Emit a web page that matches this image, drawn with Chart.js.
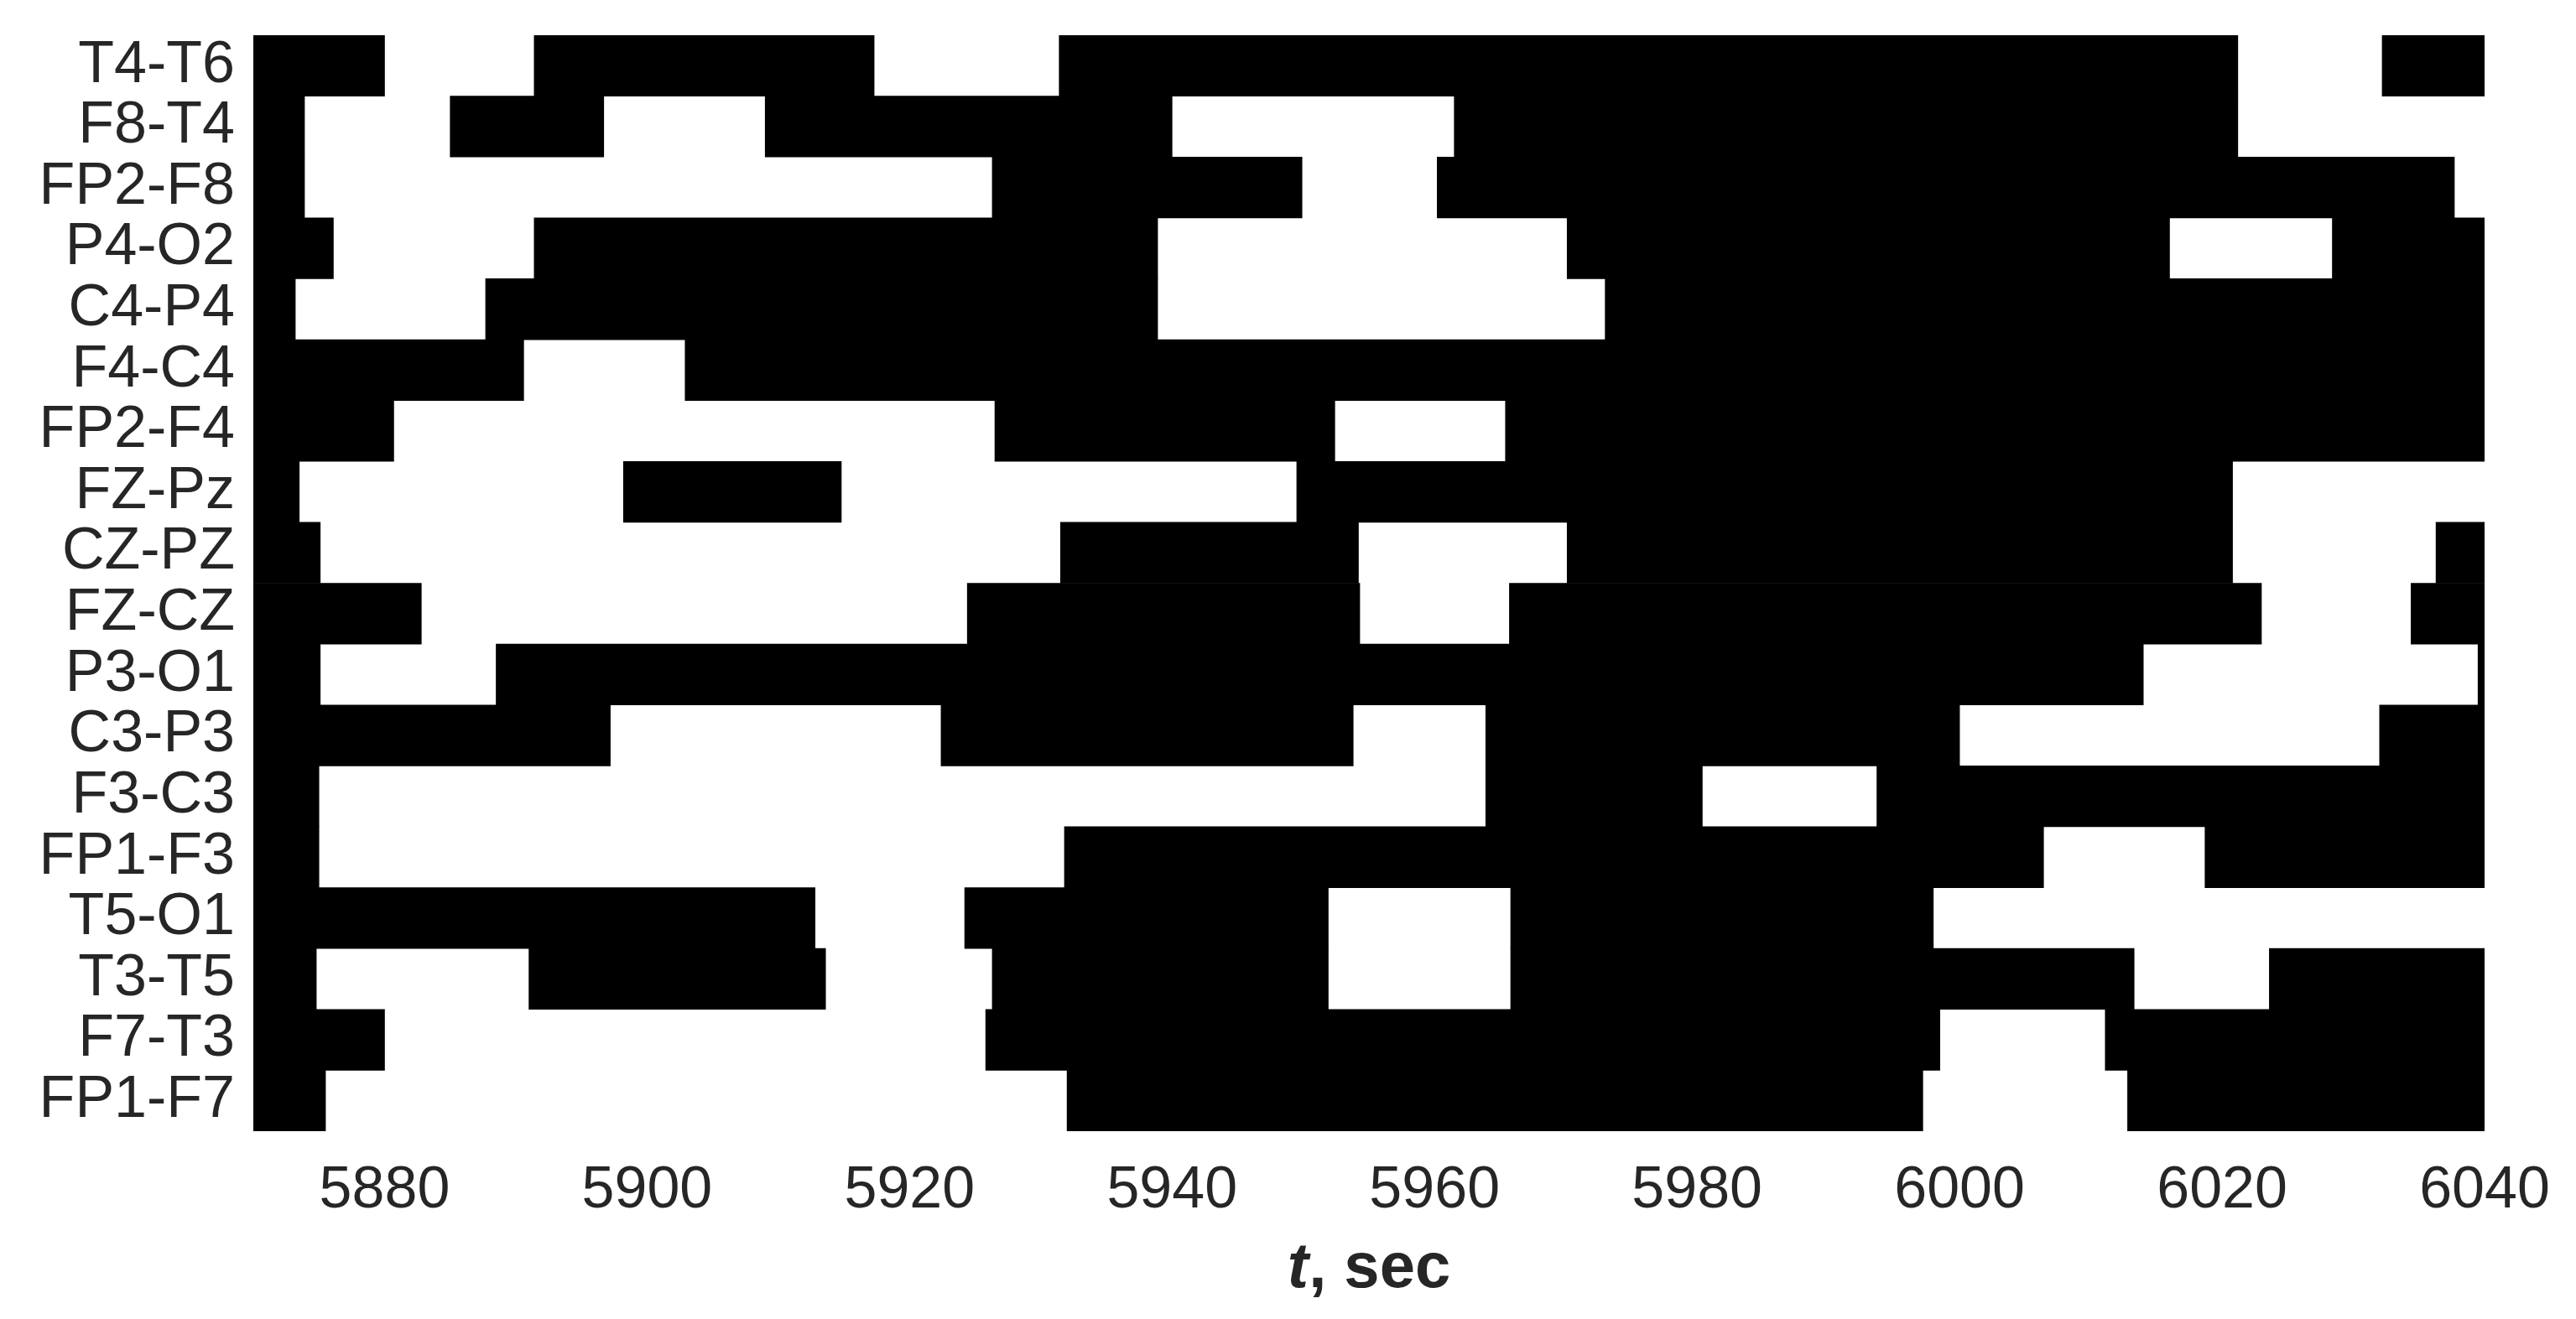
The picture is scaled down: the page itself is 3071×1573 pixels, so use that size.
<!DOCTYPE html>
<html>
<head>
<meta charset="utf-8">
<script src="https://cdn.jsdelivr.net/npm/chart.js@4/dist/chart.umd.min.js"></script>
<style>
  html, body { margin: 0; padding: 0; background: #fff; }
  canvas { display: block; }
</style>
</head>
<body>
<canvas id="chartRaster" width="3071" height="1573"></canvas>
<script>
// channels, top to bottom
const channels = [
  "T4-T6", "F8-T4", "FP2-F8", "P4-O2", "C4-P4", "F4-C4", "FP2-F4", "FZ-Pz", "CZ-PZ",
  "FZ-CZ", "P3-O1", "C3-P3", "F3-C3", "FP1-F3", "T5-O1", "T3-T5", "F7-T3", "FP1-F7",
];

// time window (sec) and tick labels
const tMin = 5870;
const tMax = 6040;
const xTicks = [5880, 5900, 5920, 5940, 5960, 5980, 6000, 6020, 6040];

// white (inactive) intervals per channel, [start, end] in sec
const gapsT4T6 = [[5880.0, 5891.4], [5917.3, 5931.4], [6021.2, 6032.2]];
const gapsF8T4 = [[5873.9, 5885.0], [5896.7, 5909.0], [5940.0, 5961.5], [6021.2, 6040]];
const gapsFP2F8 = [[5873.9, 5926.3], [5949.9, 5960.2], [6037.7, 6040]];
const gapsP4O2 = [[5876.1, 5891.4], [5938.9, 5970.1], [6016.0, 6028.4]];
const gapsC4P4 = [[5873.2, 5887.7], [5938.9, 5973.0]];
const gapsF4C4 = [[5890.6, 5902.9]];
const gapsFP2F4 = [[5880.7, 5926.5], [5952.4, 5965.4]];
const gapsFZPz = [[5873.5, 5898.2], [5914.8, 5949.5], [6020.8, 6040]];
const gapsCZPZ = [[5875.1, 5931.5], [5954.2, 5970.1], [6020.8, 6036.3]];
const gapsFZCZ = [[5882.8, 5924.4], [5954.3, 5965.7], [6023.0, 6034.4]];
const gapsP3O1 = [[5875.1, 5888.5], [6014.0, 6039.5]];
const gapsC3P3 = [[5897.2, 5922.4], [5953.8, 5963.9], [6000.0, 6032.0]];
const gapsF3C3 = [[5875.0, 5963.9], [5980.4, 5993.7]];
const gapsFP1F3 = [[5875.0, 5931.8], [6006.4, 6018.7]];
const gapsT5O1 = [[5912.8, 5924.2], [5951.9, 5965.8], [5998.0, 6040]];
const gapsT3T5 = [[5874.8, 5891.0], [5913.6, 5926.3], [5951.9, 5965.8], [6013.3, 6023.6]];
const gapsF7T3 = [[5880.0, 5925.8], [5998.5, 6011.1]];
const gapsFP1F7 = [[5875.5, 5932.0], [5997.2, 6012.8]];

const gaps = [
  gapsT4T6, gapsF8T4, gapsFP2F8, gapsP4O2, gapsC4P4, gapsF4C4, gapsFP2F4, gapsFZPz, gapsCZPZ,
  gapsFZCZ, gapsP3O1, gapsC3P3, gapsF3C3, gapsFP1F3, gapsT5O1, gapsT3T5, gapsF7T3, gapsFP1F7,
];

// black (active) segments = what is left of the window between the gaps
const active = gaps.map((g) => {
  let segs = [];
  let from = tMin;
  g.forEach(([a, b]) => {
    if (a > from) segs.push([from, a]);
    from = b;
  });
  if (from < tMax) segs.push([from, tMax]);
  return segs;
});

const nSets = Math.max(...active.map((s) => s.length));
const datasets = [];
for (let k = 0; k < nSets; k++) {
  datasets.push({
    data: active.map((s) => (s[k] ? s[k] : null)),
    backgroundColor: "#000000",
    borderWidth: 0,
    borderSkipped: false,
    grouped: false,
    barPercentage: 1.0,
    categoryPercentage: 1.0,
  });
}

const textColor = "#262626";

// x axis title with an italic "t"
const xTitle = {
  id: "xTitle",
  afterDraw(chart) {
    const { ctx, chartArea } = chart;
    const cx = (chartArea.left + chartArea.right) / 2;
    const y = 1514;
    ctx.save();
    ctx.fillStyle = textColor;
    ctx.textBaseline = "middle";
    ctx.textAlign = "left";
    const f1 = "italic bold 76px 'Liberation Sans', Arial, sans-serif";
    const f2 = "bold 76px 'Liberation Sans', Arial, sans-serif";
    ctx.font = f1;
    const w1 = ctx.measureText("t").width;
    ctx.font = f2;
    const w2 = ctx.measureText(", sec").width;
    const x0 = cx - (w1 + w2) / 2;
    ctx.font = f1;
    ctx.fillText("t", x0, y);
    ctx.font = f2;
    ctx.fillText(", sec", x0 + w1, y);
    ctx.restore();
  },
};

const ctx = document.getElementById("chartRaster").getContext("2d");
new Chart(ctx, {
  type: "bar",
  data: {
    labels: channels,
    datasets: datasets,
  },
  options: {
    indexAxis: "y",
    responsive: false,
    animation: false,
    devicePixelRatio: 1,
    layout: { padding: { top: 42, right: 109, bottom: 0, left: 0 } },
    plugins: {
      legend: { display: false },
      tooltip: { enabled: false },
    },
    scales: {
      x: {
        type: "linear",
        min: tMin,
        max: tMax,
        grid: { display: false, drawTicks: false },
        border: { display: false },
        afterBuildTicks: (s) => {
          s.ticks = xTicks.map((v) => ({ value: v }));
        },
        afterFit: (s) => {
          s.height = 224;
          s.paddingLeft = 0;
          s.paddingRight = 0;
        },
        ticks: {
          padding: 30,
          color: textColor,
          maxRotation: 0,
          autoSkip: false,
          font: { family: "'Liberation Sans', Arial, sans-serif", size: 70 },
          callback: (v) => String(v),
        },
      },
      y: {
        type: "category",
        grid: { display: false, drawTicks: false },
        border: { display: false },
        afterFit: (s) => {
          s.width = 302;
          s.paddingTop = 0;
          s.paddingBottom = 0;
        },
        ticks: {
          padding: 22,
          color: textColor,
          autoSkip: false,
          font: { family: "'Liberation Sans', Arial, sans-serif", size: 70 },
        },
      },
    },
  },
  plugins: [xTitle],
});
</script>
</body>
</html>
